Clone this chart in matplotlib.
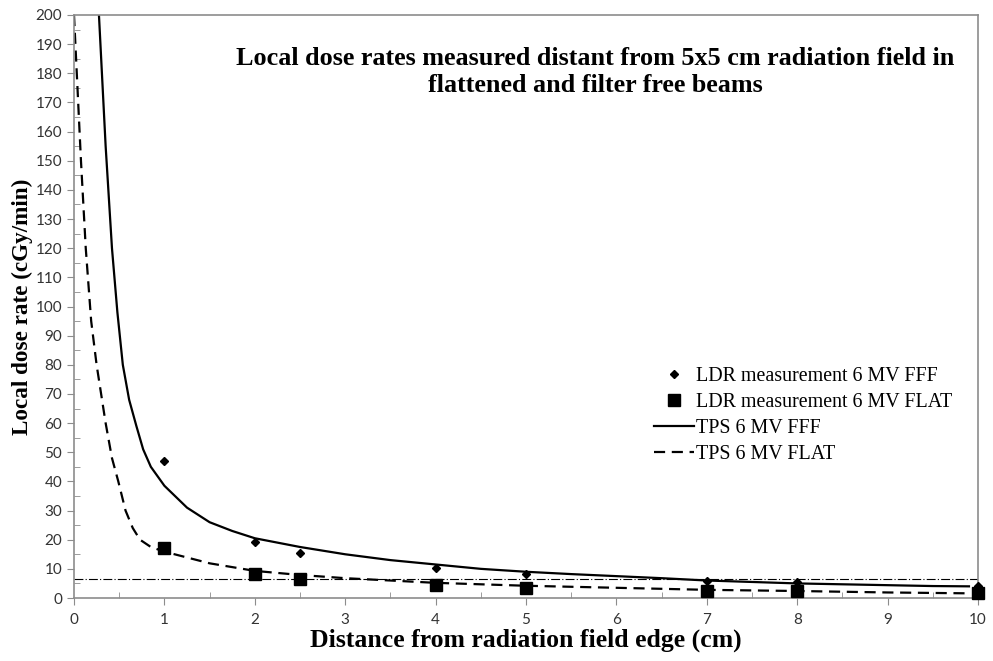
import matplotlib.pyplot as plt
from matplotlib.ticker import MultipleLocator

# measured points
dist = [1, 2, 2.5, 4, 5, 7, 8, 10]
ldr_fff = [47, 19.2, 15.5, 10.3, 8.3, 6.0, 5.5, 4.0]
ldr_flat = [17, 8.3, 6.6, 4.3, 3.5, 2.4, 2.3, 1.8]

# TPS curves
tps_fff_x = [0.276, 0.35, 0.42, 0.48, 0.54, 0.61, 0.69, 0.765, 0.85, 1.0, 1.25, 1.5, 1.75,
             2.0, 2.5, 3.0, 3.5, 4.0, 4.5, 5.0, 5.5, 6.0, 6.5, 7.0, 7.5, 8.0, 8.5, 9.0, 9.5, 9.9]
tps_fff_y = [200, 155, 120, 98, 80, 68, 59, 51, 45, 38.5, 31, 26, 23,
             20.5, 17.5, 15, 13, 11.5, 10, 9, 8.2, 7.5, 6.8, 6.0, 5.5, 5.0, 4.7, 4.4, 4.1, 4.0]
tps_flat_x = [0.0, 0.077, 0.13, 0.19, 0.25, 0.35, 0.42, 0.49, 0.57, 0.65, 0.73, 0.85, 1.0,
              1.5, 2.0, 2.5, 3.0, 4.0, 5.0, 6.0, 7.0, 8.0, 9.0, 9.9]
tps_flat_y = [200, 150, 120, 95, 80, 60, 48, 40, 30, 24, 20, 17.5, 15.9,
              11.9, 9.3, 7.9, 6.8, 5.2, 4.2, 3.5, 2.8, 2.4, 1.9, 1.6]
threshold = 6.4

serif = 'Liberation Serif'
axcol = '#8c8c8c'

fig = plt.figure(figsize=(9.93, 6.61), dpi=100)
ax = fig.add_axes([74 / 993, 63 / 661, 904 / 993, 583 / 661])

ax.plot(dist, ldr_fff, 'D', color='black', markersize=4, label='LDR measurement 6 MV FFF', clip_on=False, zorder=4)
ax.plot(dist, ldr_flat, 's', color='black', markersize=8, label='LDR measurement 6 MV FLAT', clip_on=False, zorder=4)
ax.plot(tps_fff_x, tps_fff_y, '-', color='black', linewidth=1.6, label='TPS 6 MV FFF')
ax.plot(tps_flat_x, tps_flat_y, '--', color='black', linewidth=1.6, dashes=(5, 3), label='TPS 6 MV FLAT')
ax.axhline(threshold, color='black', linewidth=0.8, linestyle=(0, (8, 2, 1, 2)))

ax.set_xlim(0, 10)
ax.set_ylim(0, 200)
ax.xaxis.set_major_locator(MultipleLocator(1))
ax.xaxis.set_minor_locator(MultipleLocator(0.5))
ax.yaxis.set_major_locator(MultipleLocator(10))
ax.yaxis.set_minor_locator(MultipleLocator(5))
ax.tick_params(which='major', direction='out', length=5, color=axcol, labelsize=11, labelcolor='#333333')
ax.tick_params(which='minor', direction='in', length=4, color=axcol)
ax.tick_params(axis='x', which='major', pad=6)
for lab in ax.get_xticklabels() + ax.get_yticklabels():
    lab.set_fontfamily('Lato')
for sp in ax.spines.values():
    sp.set_color(axcol)
    sp.set_linewidth(1.2)

ax.set_xlabel('Distance from radiation field edge (cm)', fontfamily=serif, fontweight='bold', fontsize=18.5, labelpad=1)
ax.set_ylabel('Local dose rate (cGy/min)', fontfamily=serif, fontweight='bold', fontsize=16.7)
ax.yaxis.set_label_coords(-0.045, 0.5)

ax.text((595 - 74) / 904, (598 - 72) / 583,
        'Local dose rates measured distant from 5x5 cm radiation field in\nflattened and filter free beams',
        transform=ax.transAxes, ha='center', va='center', fontfamily=serif, fontweight='bold',
        fontsize=18.8, linespacing=1.2)

leg = ax.legend(loc='upper left', bbox_to_anchor=(0.6416, 0.396), frameon=False,
                prop={'family': serif, 'size': 14.4}, handlelength=2.0, handletextpad=0.1,
                labelspacing=0.35, borderaxespad=0, borderpad=0)

fig.savefig('out.png', dpi=100)
